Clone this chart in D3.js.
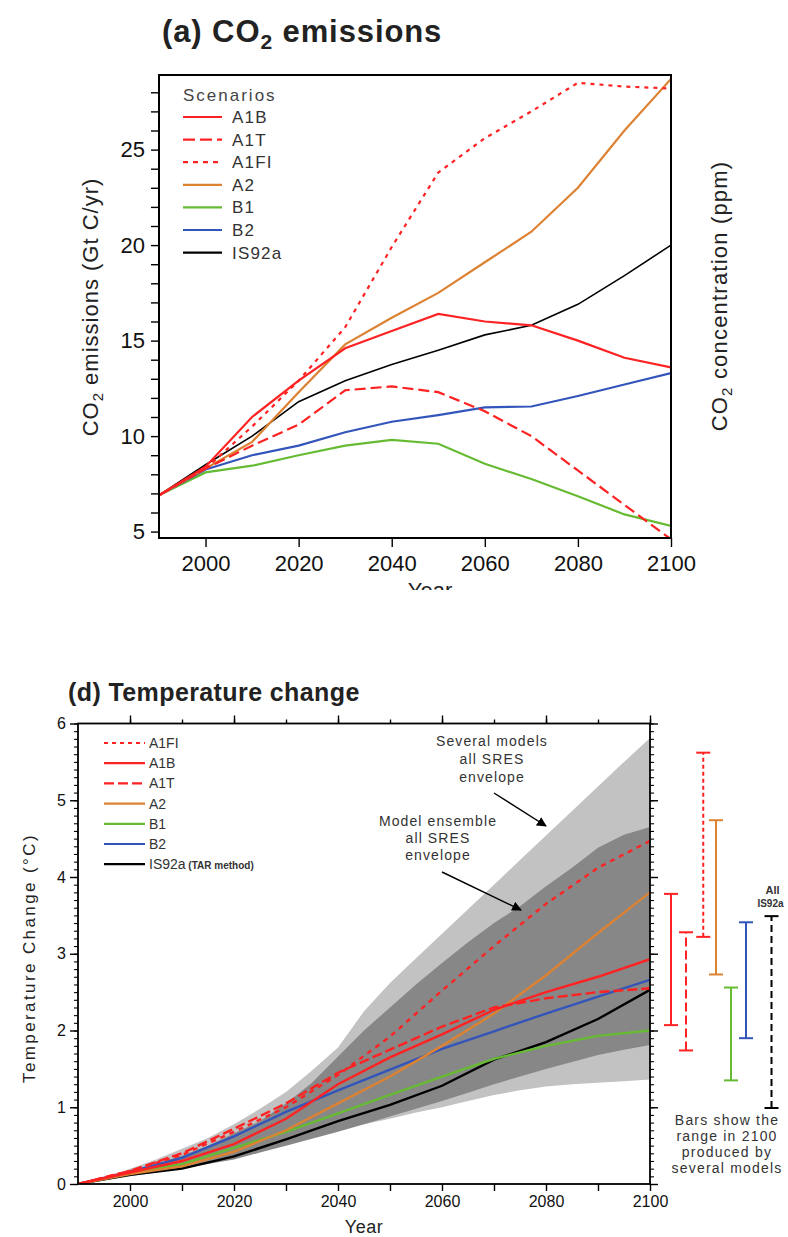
<!DOCTYPE html>
<html><head><meta charset="utf-8">
<script src="https://cdn.jsdelivr.net/npm/d3@7"></script>
<style>
body{margin:0;background:#fff}
svg{display:block}
text{font-family:"Liberation Sans",Arial,Helvetica,sans-serif}
</style>
</head><body>
<svg id="c" width="788" height="1237"></svg>
<script>
// ---------------- DATA ----------------
const years = [1990,2000,2010,2020,2030,2040,2050,2060,2070,2080,2090,2100];
// (a) CO2 emissions, Gt C/yr
const emA1B   = [6.9, 8.4, 11.0, 12.9, 14.6, 15.5, 16.4, 16.0, 15.8, 15.0, 14.1, 13.6];
const emA1T   = [6.9, 8.3, 9.5, 10.6, 12.4, 12.6, 12.3, 11.3, 10.0, 8.2, 6.4, 4.6];
const emA1FI  = [6.9, 8.3, 10.5, 12.9, 15.7, 19.9, 23.8, 25.6, 27.0, 28.5, 28.3, 28.2];
const emA2    = [6.9, 8.3, 9.7, 12.3, 14.8, 16.2, 17.5, 19.1, 20.7, 23.0, 26.0, 28.7];
const emB1    = [6.9, 8.1, 8.45, 9.0, 9.5, 9.8, 9.6, 8.55, 7.75, 6.85, 5.9, 5.3];
const emB2    = [6.9, 8.25, 9.0, 9.5, 10.2, 10.75, 11.1, 11.5, 11.55, 12.1, 12.7, 13.3];
const emIS92a = [6.9, 8.5, 10.0, 11.8, 12.9, 13.75, 14.5, 15.3, 15.8, 16.9, 18.4, 20.0];
const emYTicks = [5, 10, 15, 20, 25];
const xTicks = [2000, 2020, 2040, 2060, 2080, 2100];

// (d) Temperature change, deg C
const tA1FI  = [0, 0.17, 0.38, 0.68, 1.0, 1.42, 1.92, 2.52, 3.1, 3.65, 4.12, 4.47];
const tA1B   = [0, 0.15, 0.3, 0.52, 0.85, 1.3, 1.65, 1.95, 2.27, 2.5, 2.7, 2.93];
const tA1T   = [0, 0.17, 0.4, 0.72, 1.05, 1.45, 1.75, 2.05, 2.3, 2.42, 2.5, 2.55];
const tA2    = [0, 0.13, 0.23, 0.42, 0.7, 1.05, 1.4, 1.8, 2.22, 2.72, 3.27, 3.8];
const tB1    = [0, 0.14, 0.26, 0.47, 0.68, 0.92, 1.16, 1.4, 1.63, 1.8, 1.93, 2.0];
const tB2    = [0, 0.16, 0.34, 0.62, 0.94, 1.22, 1.49, 1.76, 1.99, 2.22, 2.44, 2.66];
const tIS92a = [0, 0.12, 0.2, 0.36, 0.58, 0.82, 1.03, 1.28, 1.62, 1.85, 2.15, 2.53];
// envelopes (5-yearly)
const years5 = [1990,1995,2000,2005,2010,2015,2020,2025,2030,2035,2040,2045,2050,2055,2060,2065,2070,2075,2080,2085,2090,2095,2100];
const envSeveralHigh = [0, 0.08, 0.2, 0.32, 0.46, 0.6, 0.78, 0.98, 1.2, 1.48, 1.78, 2.25, 2.62, 2.94, 3.26, 3.58, 3.9, 4.22, 4.54, 4.86, 5.18, 5.5, 5.81];
const envSeveralLow  = [0, 0.06, 0.13, 0.2, 0.27, 0.33, 0.39, 0.47, 0.55, 0.62, 0.7, 0.78, 0.85, 0.93, 1.0, 1.08, 1.16, 1.22, 1.27, 1.3, 1.32, 1.34, 1.36];
const envEnsHigh     = [0, 0.08, 0.17, 0.26, 0.37, 0.5, 0.66, 0.82, 1.05, 1.32, 1.66, 2.0, 2.3, 2.6, 2.88, 3.15, 3.4, 3.62, 3.88, 4.12, 4.38, 4.55, 4.65];
const envEnsLow      = [0, 0.05, 0.1, 0.15, 0.2, 0.26, 0.32, 0.41, 0.5, 0.59, 0.68, 0.78, 0.88, 0.98, 1.08, 1.19, 1.3, 1.4, 1.5, 1.59, 1.68, 1.75, 1.81];
const tYTicks = [0, 1, 2, 3, 4, 5, 6];
// range bars in 2100
const barScen = ["A1B", "A1T", "A1FI", "A2", "B1", "B2", "IS92a"];
const barLow  = [2.07, 1.74, 3.22, 2.73, 1.35, 1.9, 0.99];
const barHigh = [3.78, 3.28, 5.62, 4.74, 2.56, 3.41, 3.49];

// ---------------- STYLE ----------------
const RED = "#ff2222", ORANGE = "#dc8232", GREEN = "#66bb33", BLUE = "#3355bb", BLACK = "#000";
const styleOf = {
  A1B:   {c: RED,    d: null},
  A1T:   {c: RED,    d: "11,5"},
  A1FI:  {c: RED,    d: "4,5"},
  A2:    {c: ORANGE, d: null},
  B1:    {c: GREEN,  d: null},
  B2:    {c: BLUE,   d: null},
  IS92a: {c: BLACK,  d: null}
};
const FONT = '"Liberation Sans",Arial,Helvetica,sans-serif';
const svg = d3.select("#c");
const defs = svg.append("defs");
defs.append("marker").attr("id","arr").attr("viewBox","0 0 10 10").attr("refX",9).attr("refY",5)
  .attr("markerWidth",7).attr("markerHeight",7).attr("orient","auto")
  .append("path").attr("d","M0,0 L10,5 L0,10 z").attr("fill","#000");

function styleAxis(g, fs){
  g.select(".domain").remove();
  g.selectAll(".tick line").attr("stroke","#000").attr("stroke-width",1.4);
  g.selectAll(".tick text").attr("font-size",fs).attr("fill","#111").attr("font-family",FONT);
}

// =============== (a) CO2 emissions ===============
const aL = 159, aR = 671, aT = 75, aB = 538;
const ax = d3.scaleLinear().domain([1990, 2100]).range([aL, aR]);
const ay = d3.scaleLinear().domain([5, 25]).range([531.6, 149.6]);

svg.append("text").attr("x",162).attr("y",42).attr("font-size",31).attr("font-weight","bold").attr("letter-spacing",0.9).attr("fill","#222")
  .call(t => { t.append("tspan").text("(a) CO");
               t.append("tspan").attr("font-size",21).attr("dy",7).text("2");
               t.append("tspan").attr("dy",-7).text(" emissions"); });

defs.append("clipPath").attr("id","clipA").append("rect").attr("x",aL).attr("y",aT).attr("width",aR-aL).attr("height",aB-aT);
defs.append("clipPath").attr("id","clipYear").append("rect").attr("x",0).attr("y",0).attr("width",788).attr("height",590);

const gA = svg.append("g");
const lineA = d3.line().x((d,i)=>ax(years[i])).y(d=>ay(d));
const emSeries = [["B1",emB1],["B2",emB2],["IS92a",emIS92a],["A2",emA2],["A1T",emA1T],["A1B",emA1B],["A1FI",emA1FI]];
gA.append("g").attr("clip-path","url(#clipA)").selectAll("path").data(emSeries).join("path")
  .attr("d", d => lineA(d[1])).attr("fill","none")
  .attr("stroke", d => styleOf[d[0]].c).attr("stroke-width", d => d[0]==="IS92a"?1.6:2.2)
  .attr("stroke-dasharray", d => styleOf[d[0]].d);

// axes
gA.append("g").attr("transform",`translate(0,${aB})`)
  .call(d3.axisBottom(ax).tickValues(xTicks).tickSize(9).tickPadding(8).tickFormat(d3.format("d")))
  .call(g=>styleAxis(g,22));
gA.append("g").attr("transform",`translate(${aL},0)`)
  .call(d3.axisLeft(ay).tickValues(d3.range(5,29)).tickSize(8).tickPadding(6)
    .tickFormat(d => emYTicks.includes(d) ? d : ""))
  .call(g=>styleAxis(g,22));
gA.append("rect").attr("x",aL).attr("y",aT).attr("width",aR-aL).attr("height",aB-aT)
  .attr("fill","none").attr("stroke","#000").attr("stroke-width",2);

// axis titles
svg.append("text").attr("transform","translate(98,307) rotate(-90)").attr("text-anchor","middle")
  .attr("font-size",22).attr("letter-spacing",1).attr("fill","#222")
  .call(t => { t.append("tspan").text("CO");
               t.append("tspan").attr("font-size",15).attr("dy",5).text("2");
               t.append("tspan").attr("dy",-5).text(" emissions (Gt C/yr)"); });
svg.append("text").attr("transform","translate(727,296) rotate(-90)").attr("text-anchor","middle")
  .attr("font-size",22).attr("letter-spacing",1.2).attr("fill","#222")
  .call(t => { t.append("tspan").text("CO");
               t.append("tspan").attr("font-size",15).attr("dy",5).text("2");
               t.append("tspan").attr("dy",-5).text(" concentration (ppm)"); });
svg.append("text").attr("clip-path","url(#clipYear)").attr("x",430).attr("y",598).attr("text-anchor","middle")
  .attr("font-size",22).attr("fill","#222").text("Year");

// legend
const legA = svg.append("g");
legA.append("text").attr("x",183).attr("y",101).attr("font-size",17).attr("letter-spacing",2).attr("fill","#444").text("Scenarios");
const legAItems = ["A1B","A1T","A1FI","A2","B1","B2","IS92a"];
legAItems.forEach((k,i)=>{
  const y = 117 + i*22.6;
  legA.append("line").attr("x1",183).attr("x2",222).attr("y1",y).attr("y2",y)
    .attr("stroke",styleOf[k].c).attr("stroke-width",2.2).attr("stroke-dasharray",
      k==="A1T"?"12,5":(k==="A1FI"?"5,5":null));
  legA.append("text").attr("x",232).attr("y",y+6).attr("font-size",17).attr("letter-spacing",1.2).attr("fill","#333").text(k);
});

// =============== (d) Temperature change ===============
const dL = 78, dR = 650, dT = 723.5, dB = 1184;
const bx = d3.scaleLinear().domain([1990, 2100]).range([dL, dR]);
const by = d3.scaleLinear().domain([0, 6]).range([dB, dT]);

svg.append("text").attr("x",68).attr("y",701).attr("font-size",25).attr("font-weight","bold").attr("letter-spacing",0.4)
  .attr("fill","#222").text("(d) Temperature change");

defs.append("clipPath").attr("id","clipD").append("rect").attr("x",dL).attr("y",dT).attr("width",dR-dL).attr("height",dB-dT);
const gD = svg.append("g");
const gDc = gD.append("g").attr("clip-path","url(#clipD)");
const area5 = (hi, lo) => d3.area().x((d,i)=>bx(years5[i])).y0((d,i)=>by(lo[i])).y1(d=>by(d))(hi);
gDc.append("path").attr("d", area5(envSeveralHigh, envSeveralLow)).attr("fill","#c2c2c2");
gDc.append("path").attr("d", area5(envEnsHigh, envEnsLow)).attr("fill","#878787");

const lineD = d3.line().x((d,i)=>bx(years[i])).y(d=>by(d));
const tSeries = [["IS92a",tIS92a],["B1",tB1],["B2",tB2],["A2",tA2],["A1T",tA1T],["A1B",tA1B],["A1FI",tA1FI]];
gDc.selectAll("path.ln").data(tSeries).join("path").attr("class","ln")
  .attr("d", d => lineD(d[1])).attr("fill","none")
  .attr("stroke", d => styleOf[d[0]].c).attr("stroke-width", 2.4)
  .attr("stroke-dasharray", d => d[0]==="A1T" ? "10,4" : (d[0]==="A1FI" ? "5,5" : null));

// axes for (d)
const minorY = d3.range(0,61).map(i=>i/10);
gD.append("g").attr("transform",`translate(${dL},0)`).call(d3.axisLeft(by).tickValues(minorY).tickSize(4).tickFormat(""))
  .call(g=>styleAxis(g,15)).call(g=>g.selectAll(".tick line").attr("stroke-width",1.1));
gD.append("g").attr("transform",`translate(${dL},0)`).call(d3.axisLeft(by).tickValues(tYTicks).tickSize(8).tickPadding(4).tickFormat(d3.format("d")))
  .call(g=>styleAxis(g,16));
gD.append("g").attr("transform",`translate(${dR},0)`).call(d3.axisRight(by).tickValues(minorY).tickSize(4).tickFormat(""))
  .call(g=>styleAxis(g,15)).call(g=>g.selectAll(".tick line").attr("stroke-width",1.1));
gD.append("g").attr("transform",`translate(${dR},0)`).call(d3.axisRight(by).tickValues(tYTicks).tickSize(8).tickFormat(""))
  .call(g=>styleAxis(g,15));
const dec = d3.range(2000,2101,10);
gD.append("g").attr("transform",`translate(0,${dT})`).call(d3.axisTop(bx).tickValues(dec).tickSize(4).tickFormat(""))
  .call(g=>styleAxis(g,15));
gD.append("g").attr("transform",`translate(0,${dT})`).call(d3.axisTop(bx).tickValues(xTicks).tickSize(8).tickFormat(""))
  .call(g=>styleAxis(g,15));
gD.append("g").attr("transform",`translate(0,${dB})`).call(d3.axisBottom(bx).tickValues(dec).tickSize(7).tickPadding(5)
  .tickFormat(d => xTicks.includes(d) ? d : "")).call(g=>styleAxis(g,16));
gD.append("rect").attr("x",dL).attr("y",dT).attr("width",dR-dL).attr("height",dB-dT)
  .attr("fill","none").attr("stroke","#000").attr("stroke-width",1.8);

svg.append("text").attr("transform","translate(35,958) rotate(-90)").attr("text-anchor","middle")
  .attr("font-size",17).attr("letter-spacing",2.4).attr("fill","#222").text("Temperature Change (°C)");
svg.append("text").attr("x",364).attr("y",1233).attr("text-anchor","middle")
  .attr("font-size",18).attr("letter-spacing",0.5).attr("fill","#222").text("Year");

// legend (d)
const legD = svg.append("g");
const legDItems = ["A1FI","A1B","A1T","A2","B1","B2","IS92a"];
legDItems.forEach((k,i)=>{
  const y = 743 + i*20.2;
  legD.append("line").attr("x1",104).attr("x2",145).attr("y1",y).attr("y2",y)
    .attr("stroke",styleOf[k].c).attr("stroke-width",2.2)
    .attr("stroke-dasharray", k==="A1T"?"10,4":(k==="A1FI"?"4,4":null));
  const t = legD.append("text").attr("x",149).attr("y",y+5).attr("font-size",14).attr("fill","#333").text(k);
  if(k==="IS92a") t.append("tspan").attr("font-size",10).attr("font-weight","bold").text(" (TAR method)");
});

// annotations
const ann = svg.append("g").attr("font-size",14).attr("fill","#333").attr("text-anchor","middle").attr("letter-spacing",1.1);
[["Several models",746],["all SRES",764],["envelope",782]].forEach(([s,y])=>ann.append("text").attr("x",492).attr("y",y).text(s));
[["Model ensemble",826],["all SRES",843],["envelope",860]].forEach(([s,y])=>ann.append("text").attr("x",438).attr("y",y).text(s));
svg.append("line").attr("x1",494).attr("y1",793).attr("x2",546).attr("y2",826).attr("stroke","#000").attr("stroke-width",1.4).attr("marker-end","url(#arr)");
svg.append("line").attr("x1",442).attr("y1",872).attr("x2",521).attr("y2",910).attr("stroke","#000").attr("stroke-width",1.4).attr("marker-end","url(#arr)");

// range bars
const barSlot = [0, 1, 2.15, 3, 4, 5, 6.7];
const barX = d3.scaleLinear().domain([0, 1]).range([671, 686]);
const gBar = svg.append("g");
barScen.forEach((k,i)=>{
  const x = barX(barSlot[i]);
  const s = styleOf[k];
  const dash = k==="A1T" ? "9,4" : (k==="A1FI" ? "4,3" : (k==="IS92a" ? "7,4" : null));
  gBar.append("line").attr("x1",x).attr("x2",x).attr("y1",by(barLow[i])).attr("y2",by(barHigh[i]))
    .attr("stroke",s.c).attr("stroke-width",2).attr("stroke-dasharray",dash);
  [barLow[i], barHigh[i]].forEach(v=>gBar.append("line").attr("x1",x-7).attr("x2",x+7).attr("y1",by(v)).attr("y2",by(v))
    .attr("stroke",s.c).attr("stroke-width",2));
});
svg.append("text").attr("x",barX(6.7)+1).attr("y",894).attr("text-anchor","middle").attr("font-size",11).attr("font-weight","bold").attr("fill","#333").text("All");
svg.append("text").attr("x",barX(6.7)-1).attr("y",907).attr("text-anchor","middle").attr("font-size",10).attr("font-weight","bold").attr("fill","#333").text("IS92a");
const note = svg.append("g").attr("font-size",14).attr("fill","#333").attr("text-anchor","middle").attr("letter-spacing",1.2);
[["Bars show the",1125],["range in 2100",1141],["produced by",1157],["several models",1173]].forEach(([s,y])=>note.append("text").attr("x",727).attr("y",y).text(s));
</script>
</body></html>
